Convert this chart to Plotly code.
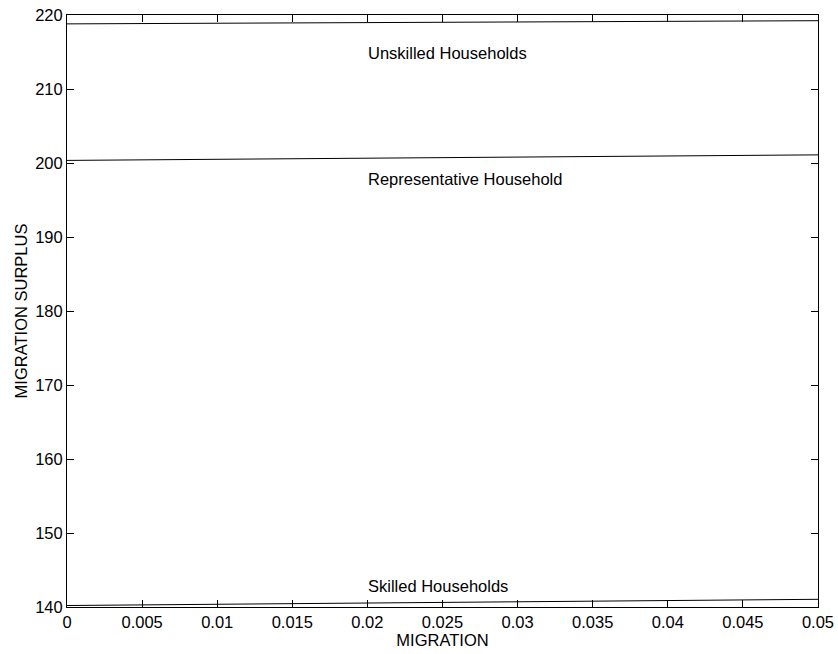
import plotly.graph_objects as go

# Migration share on the horizontal axis
migration = [0.0, 0.01, 0.02, 0.03, 0.04, 0.05]

# Migration surplus by household type
unskilled = [218.8, 218.88, 218.97, 219.05, 219.14, 219.23]
representative = [200.35, 200.5, 200.65, 200.8, 200.95, 201.1]
skilled = [140.2, 140.36, 140.52, 140.69, 140.86, 141.04]

# Curve labels and where they sit (data coordinates)
label_names = ["Unskilled Households", "Representative Household", "Skilled Households"]
label_x = [0.02, 0.02, 0.02]
label_y = [214.9, 197.8, 142.8]

x_ticks = [0, 0.005, 0.01, 0.015, 0.02, 0.025, 0.03, 0.035, 0.04, 0.045, 0.05]
x_tick_text = ["0", "0.005", "0.01", "0.015", "0.02", "0.025", "0.03", "0.035", "0.04", "0.045", "0.05"]
y_ticks = [140, 150, 160, 170, 180, 190, 200, 210, 220]

FONT = "Liberation Sans, Arial, sans-serif"
FS = 16.5

fig = go.Figure()
for series in (unskilled, representative, skilled):
    fig.add_trace(go.Scatter(
        x=migration, y=series, mode="lines",
        line=dict(color="black", width=1), showlegend=False,
        hoverinfo="skip",
    ))

for name, lx, ly in zip(label_names, label_x, label_y):
    fig.add_annotation(
        x=lx, y=ly, text=name, showarrow=False,
        xanchor="left", yanchor="middle", xshift=-1,
        font=dict(family=FONT, size=FS, color="black"),
    )

axis_common = dict(
    showgrid=False, zeroline=False, automargin=False,
    showline=True, linecolor="black", linewidth=1,
    mirror="ticks", ticks="inside", ticklen=7, tickwidth=1, tickcolor="black",
    tickfont=dict(family=FONT, size=FS, color="black"),
)

fig.update_layout(
    width=838, height=654,
    margin=dict(l=67, r=20, t=15, b=47),
    paper_bgcolor="white", plot_bgcolor="white",
    font=dict(family=FONT, size=FS, color="black"),
    xaxis=dict(
        range=[0, 0.05], tickvals=x_ticks, ticktext=x_tick_text,
        title=dict(text="MIGRATION", standoff=0,
                   font=dict(family=FONT, size=FS, color="black")),
        **axis_common,
    ),
    yaxis=dict(
        range=[140, 220], tickvals=y_ticks,
        title=dict(text="MIGRATION SURPLUS", standoff=3,
                   font=dict(family=FONT, size=FS, color="black")),
        **axis_common,
    ),
)

fig.write_html("out.html")
